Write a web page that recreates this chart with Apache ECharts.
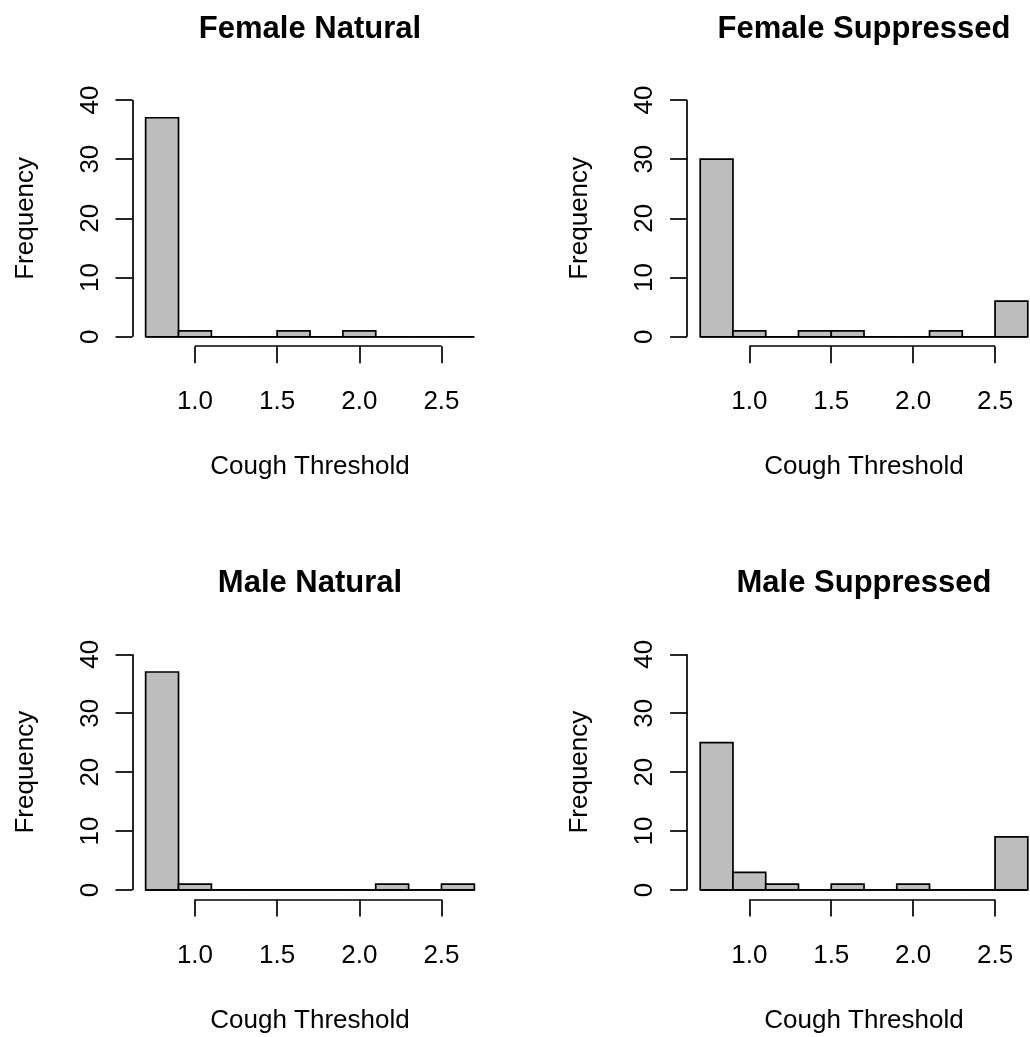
<!DOCTYPE html>
<html>
<head>
<meta charset="utf-8">
<script src="https://cdn.jsdelivr.net/npm/echarts@6/dist/echarts.min.js"></script>
<style>html,body{margin:0;padding:0;background:#fff}#c{width:1030px;height:1037px}</style>
</head>
<body>
<div id="c"></div>
<script>
// ---- data ----
var breaks = [0.7, 0.9, 1.1, 1.3, 1.5, 1.7, 1.9, 2.1, 2.3, 2.5, 2.7];
var femaleNatural    = [37, 1, 0, 0, 1, 0, 1, 0, 0, 0];
var femaleSuppressed = [30, 1, 0, 1, 1, 0, 0, 1, 0, 6];
var maleNatural      = [37, 1, 0, 0, 0, 0, 0, 1, 0, 1];
var maleSuppressed   = [25, 3, 1, 0, 1, 0, 1, 0, 0, 9];
var panelTitles = ['Female Natural', 'Female Suppressed', 'Male Natural', 'Male Suppressed'];
var xTicks = [1.0, 1.5, 2.0, 2.5];
var yTicks = [0, 10, 20, 30, 40];
var xLabel = 'Cough Threshold';
var yLabel = 'Frequency';

var panelData = [femaleNatural, femaleSuppressed, maleNatural, maleSuppressed];
var grids = [
  {left: 132.5, top: 90.5, width: 355, height: 255.7},
  {left: 687.1, top: 90.5, width: 353.8, height: 255.7},
  {left: 132.5, top: 644.9, width: 355, height: 254.5},
  {left: 687.1, top: 644.9, width: 353.8, height: 254.5}
];
var FONT = 'Liberation Sans, Arial, sans-serif';
var XMIN = 0.62, XMAX = 2.78, YMIN = -1.6, YMAX = 41.6;
var LW = 1.7;

var option = {
  backgroundColor: '#fff',
  animation: false,
  title: [], grid: [], xAxis: [], yAxis: [], series: []
};

panelData.forEach(function (counts, i) {
  var g = grids[i];
  option.grid.push({left: g.left, top: g.top, width: g.width, height: g.height,
    containLabel: false, outerBoundsMode: 'none'});
  option.title.push({
    text: panelTitles[i], left: g.left + g.width / 2, top: g.top - 77, textAlign: 'center', padding: 0,
    textStyle: {fontFamily: FONT, fontSize: 31, fontWeight: 'bold', color: '#000'}
  });
  option.xAxis.push({
    type: 'value', gridIndex: i, min: XMIN, max: XMAX,
    axisLine: {show: false, onZero: false}, splitLine: {show: false},
    axisTick: {show: true, customValues: xTicks, length: 17, lineStyle: {color: '#000', width: LW}},
    axisLabel: {show: true, customValues: xTicks, margin: 43, color: '#000', fontFamily: FONT, fontSize: 26,
      formatter: function (v) { return v.toFixed(1); }},
    name: xLabel, nameLocation: 'middle', nameGap: 108,
    nameTextStyle: {fontFamily: FONT, fontSize: 26, color: '#000'}
  });
  option.yAxis.push({
    type: 'value', gridIndex: i, min: YMIN, max: YMAX,
    axisLine: {show: false, onZero: false}, splitLine: {show: false},
    axisTick: {show: true, customValues: yTicks, length: 17, lineStyle: {color: '#000', width: LW}},
    axisLabel: {show: true, customValues: yTicks, rotate: 90, margin: 29, color: '#000', fontFamily: FONT, fontSize: 26,
      formatter: function (v) { return String(v); }},
    name: yLabel, nameLocation: 'middle', nameGap: 94,
    nameTextStyle: {fontFamily: FONT, fontSize: 26, color: '#000'}
  });
  var bins = counts.map(function (c, k) { return [breaks[k], breaks[k + 1], c]; });
  option.series.push({
    type: 'custom', xAxisIndex: i, yAxisIndex: i, clip: false,
    data: bins,
    renderItem: function (params, api) {
      var p0 = api.coord([api.value(0), 0]);
      var p1 = api.coord([api.value(1), api.value(2)]);
      return {
        type: 'rect',
        shape: {x: p0[0], y: p1[1], width: p1[0] - p0[0], height: p0[1] - p1[1]},
        style: {fill: '#bebebe', stroke: '#000', lineWidth: LW}
      };
    },
    markLine: {
      silent: true, symbol: 'none', label: {show: false},
      lineStyle: {color: '#000', width: LW, type: 'solid'},
      data: [
        [{coord: [xTicks[0], YMIN]}, {coord: [xTicks[xTicks.length - 1], YMIN]}],
        [{coord: [XMIN, yTicks[0]]}, {coord: [XMIN, yTicks[yTicks.length - 1]]}],
        [{coord: [breaks[0], 0]}, {coord: [breaks[breaks.length - 1], 0]}]
      ]
    }
  });
});

var chart = echarts.init(document.getElementById('c'), null, {renderer: 'canvas'});
chart.setOption(option);
</script>
</body>
</html>
